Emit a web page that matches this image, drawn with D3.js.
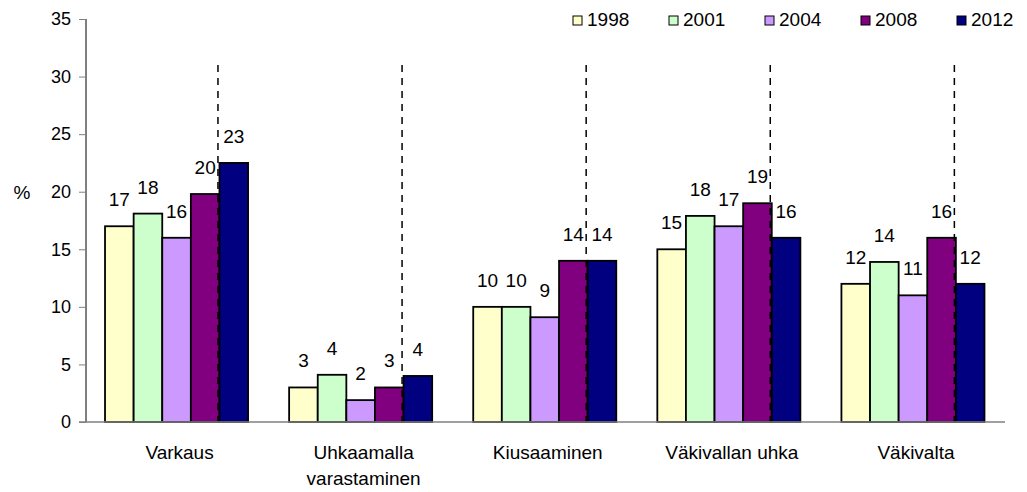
<!DOCTYPE html>
<html>
<head>
<meta charset="utf-8">
<script src="https://cdn.jsdelivr.net/npm/d3@7"></script>
<style>
  body { margin: 0; background: #fff; }
  text { font-family: "Liberation Sans", Arial, sans-serif; fill: #000; }
</style>
</head>
<body>
<div id="chart"></div>
<script>
const categories = ["Varkaus", "Uhkaamalla varastaminen", "Kiusaaminen", "Väkivallan uhka", "Väkivalta"];
const years = ["1998", "2001", "2004", "2008", "2012"];
const v1998 = [17, 3, 10, 15, 12];
const v2001 = [18.1, 4.1, 10, 17.9, 13.9];
const v2004 = [16, 1.9, 9.1, 17, 11];
const v2008 = [19.8, 3, 14, 19, 16];
const v2012 = [22.5, 4, 14, 16, 12];
const yTicks = [0, 5, 10, 15, 20, 25, 30, 35];
const yLabel = "%";

const series = [v1998, v2001, v2004, v2008, v2012];
const paleta = ["#FFFFCC", "#CCFFCC", "#CC99FF", "#800080", "#000080"];

const width = 1027
const height = 492
const margin = ({ top: 19, right: 22, bottom: 70, left: 84.5 })
const fs = 19

const svg = d3.select("#chart").append("svg")
  .attr("width", width)
  .attr("height", height);

const data = categories.map((cat, i) => {
  const row = { cat };
  years.forEach((yr, j) => { row[yr] = series[j][i]; });
  return row;
});

const x0 = d3.scaleBand()
  .domain(categories)
  .range([margin.left, width - margin.right])
  .padding(0);

const bw = x0.bandwidth();
const x1 = d3.scaleBand()
  .domain(years)
  .range([bw * 0.1115, bw * 0.8885])
  .padding(0);

const y = d3.scaleLinear()
  .domain([0, 35])
  .range([height - margin.bottom, margin.top]);

const axisX = 86;

// y axis
svg.append("g")
  .attr("transform", `translate(${axisX},0)`)
  .call(d3.axisLeft(y).tickValues(yTicks).tickSize(7).tickPadding(8))
  .call(g => g.select(".domain").attr("stroke", "#000").attr("d", `M0,${y(0)}V${y(35)}`))
  .call(g => g.selectAll(".tick line").attr("stroke", "#808080"))
  .call(g => g.selectAll(".tick text")
    .attr("font-size", 18)
    .attr("font-family", "Liberation Sans, Arial, sans-serif")
    .attr("fill", "#000"));

svg.append("text")
  .attr("x", 22)
  .attr("y", y(20) + 7)
  .attr("text-anchor", "middle")
  .attr("font-size", fs)
  .text(yLabel);

// bars
const groups = svg.append("g")
  .selectAll("g")
  .data(data)
  .join("g")
  .attr("transform", d => `translate(${x0(d.cat)},0)`);

groups.selectAll("rect")
  .data(d => years.map((yr, j) => ({ yr, j, value: d[yr] })))
  .join("rect")
  .attr("x", d => x1(d.yr))
  .attr("y", d => y(d.value))
  .attr("width", x1.bandwidth())
  .attr("height", d => y(0) - y(d.value))
  .attr("fill", d => paleta[d.j])
  .attr("stroke", "#000")
  .attr("stroke-width", 1.8);

groups.selectAll("text.val")
  .data(d => years.map((yr, j) => ({ yr, j, value: d[yr] })))
  .join("text")
  .attr("class", "val")
  .attr("x", d => x1(d.yr) + x1.bandwidth() / 2)
  .attr("y", d => y(d.value) - 20)
  .attr("text-anchor", "middle")
  .attr("font-size", fs)
  .text(d => Math.round(d.value));

// dashed markers between 2008 and 2012
groups.append("line")
  .attr("x1", x1("2012") - 1.5)
  .attr("x2", x1("2012") - 1.5)
  .attr("y1", y(31))
  .attr("y2", y(0))
  .attr("stroke", "#000")
  .attr("stroke-width", 1.5)
  .attr("stroke-dasharray", "7,6");

// x axis baseline
svg.append("line")
  .attr("x1", 79)
  .attr("x2", width - margin.right)
  .attr("y1", y(0))
  .attr("y2", y(0))
  .attr("stroke", "#808080")
  .attr("stroke-width", 1.5);

// category labels
const labelX = d => x0(d) + bw / 2 + 3;
const catLabels = svg.append("g")
  .selectAll("text")
  .data(categories)
  .join("text")
  .attr("x", labelX)
  .attr("y", y(0) + 37)
  .attr("text-anchor", "middle")
  .attr("font-size", fs);

catLabels.each(function (d) {
  const t = d3.select(this);
  t.text(d);
  if (this.getComputedTextLength() > bw * 0.9) {
    const words = d.split(" ");
    t.text(null);
    words.forEach((w, i) => {
      t.append("tspan")
        .attr("x", labelX(d))
        .attr("dy", i === 0 ? 0 : 26)
        .text(w);
    });
  }
});

// legend
const legend = svg.append("g")
  .selectAll("g")
  .data(years)
  .join("g")
  .attr("transform", (d, i) => `translate(${573 + i * 96},16)`);

legend.append("rect")
  .attr("width", 9)
  .attr("height", 9)
  .attr("fill", (d, i) => paleta[i])
  .attr("stroke", "#000")
  .attr("stroke-width", 1);

legend.append("text")
  .attr("x", 14)
  .attr("y", 10)
  .attr("font-size", fs)
  .text(d => d);
</script>
</body>
</html>
